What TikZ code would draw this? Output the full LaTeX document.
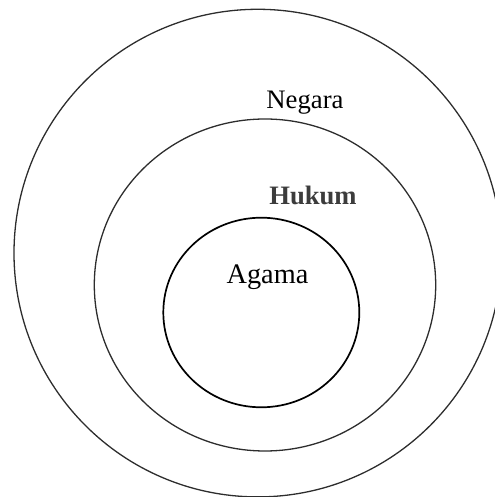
\documentclass[tikz,border=0pt]{standalone}
\usepackage{fontspec}
\setmainfont{Liberation Serif}
\usepackage{xcolor}
\usepackage{tikz}
\definecolor{ringcolor}{RGB}{45, 45, 45}
\definecolor{hukumcolor}{RGB}{60, 60, 60}

\begin{document}
\begin{tikzpicture}[
    x=0.5pt, y=0.5pt,
    ring/.style={draw=ringcolor, line width=0.65pt},
    corering/.style={draw=black, line width=0.85pt},
    label/.style={anchor=base, inner sep=0pt, font=\fontsize{13.35}{16}\selectfont}
]
\useasboundingbox (0,0) rectangle (494,497);

% Rings
\draw[ring] (257.8,243.9) circle [radius=243.8];
\draw[ring] (265,212) ellipse [x radius=170.7, y radius=166];
\draw[corering] (261.3,184.5) ellipse [x radius=98, y radius=94.8];

% Labels
\node[label] (negara) at (305,388.7) {Negara};
\node[label, text=hukumcolor, font=\fontsize{13.3}{16}\selectfont\bfseries] (hukum) at (313,292) {Hukum};
\node[label, font=\fontsize{14.15}{17}\selectfont] (agama) at (267.5,213.7) {Agama};

\end{tikzpicture}
\end{document}
